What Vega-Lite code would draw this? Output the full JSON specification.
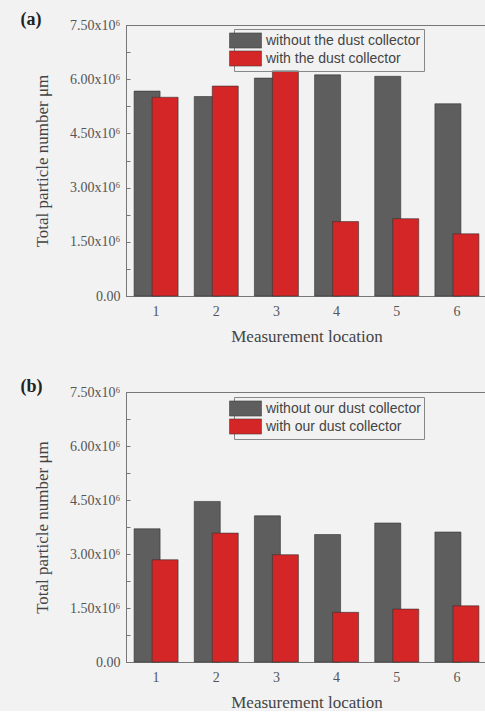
{
  "$schema": "https://vega.github.io/schema/vega-lite/v6.json",
  "background": "#f2f2f2",
  "padding": {"left": 20, "top": 10, "right": 0, "bottom": 0},
  "spacing": 32,
  "config": {
    "font": "Liberation Serif",
    "view": {"stroke": "#777777", "strokeWidth": 1},
    "axis": {
      "labelFont": "Liberation Serif",
      "titleFont": "Liberation Serif",
      "labelColor": "#555555",
      "titleColor": "#444444",
      "domainColor": "#777777",
      "tickColor": "#777777",
      "grid": false
    },
    "title": {"font": "Liberation Serif", "fontSize": 18, "fontWeight": "bold", "color": "#222222", "anchor": "start", "frame": "bounds"}
  },
  "resolve": {"scale": {"color": "independent"}, "legend": {"color": "independent"}},
  "vconcat": [
    {
      "width": 361,
      "height": 271,
      "title": {"text": "(a)", "dx": -13, "offset": -11},
      "data": {"values": [
        {"location": "1", "series": "without the dust collector", "value": 5670000},
        {"location": "2", "series": "without the dust collector", "value": 5520000},
        {"location": "3", "series": "without the dust collector", "value": 6030000},
        {"location": "4", "series": "without the dust collector", "value": 6120000},
        {"location": "5", "series": "without the dust collector", "value": 6080000},
        {"location": "6", "series": "without the dust collector", "value": 5320000},
        {"location": "1", "series": "with the dust collector", "value": 5500000},
        {"location": "2", "series": "with the dust collector", "value": 5810000},
        {"location": "3", "series": "with the dust collector", "value": 6230000},
        {"location": "4", "series": "with the dust collector", "value": 2060000},
        {"location": "5", "series": "with the dust collector", "value": 2140000},
        {"location": "6", "series": "with the dust collector", "value": 1720000}
      ]},
      "encoding": {
        "x": {"field": "location", "type": "ordinal", "scale": {"paddingInner": 0, "paddingOuter": 0},
              "axis": {"title": "Measurement location", "labelAngle": 0, "labelFontSize": 14, "titleFontSize": 17, "titleFontWeight": "normal", "ticks": false, "labelPadding": 8, "titlePadding": 10}},
        "y": {"field": "value", "type": "quantitative", "scale": {"domain": [0, 7500000], "nice": false},
              "axis": {"title": "Total particle number μm", "values": [0, 750000, 1500000, 2250000, 3000000, 3750000, 4500000, 5250000, 6000000, 6750000, 7500000],
                       "labelExpr": "datum.value % 1500000 !== 0 ? '' : (datum.value === 0 ? '0.00' : format(datum.value / 1000000, '.2f') + 'x10⁶')",
                       "labelFontSize": 14, "titleFontSize": 17, "titleFontWeight": "normal", "tickSize": -4, "labelPadding": 10, "titlePadding": 18}},
        "color": {"field": "series", "type": "nominal",
                  "scale": {"domain": ["without the dust collector", "with the dust collector"], "range": ["#5e5e5e", "#d42626"]},
                  "legend": {"title": null, "orient": "none", "legendX": 108, "legendY": 4, "direction": "vertical",
                             "strokeColor": "#888888", "padding": 3, "rowPadding": -6,
                             "symbolType": "M-2,-0.95H2V0.95H-2Z", "symbolSize": 256, "symbolStrokeColor": "#333333", "symbolStrokeWidth": 0.5, "symbolOpacity": 1,
                             "labelFont": "Liberation Sans", "labelFontSize": 14, "labelColor": "#444444", "labelOffset": 12}}
      },
      "layer": [
        {"transform": [{"filter": "datum.series === 'without the dust collector'"}],
         "mark": {"type": "bar", "width": 26, "xOffset": -9, "stroke": "#333333", "strokeWidth": 0.6}},
        {"transform": [{"filter": "datum.series === 'with the dust collector'"}],
         "mark": {"type": "bar", "width": 26, "xOffset": 9, "stroke": "#333333", "strokeWidth": 0.6}}
      ]
    },
    {
      "width": 361,
      "height": 270,
      "title": {"text": "(b)", "dx": -13, "offset": -11},
      "data": {"values": [
        {"location": "1", "series": "without our dust collector", "value": 3700000},
        {"location": "2", "series": "without our dust collector", "value": 4460000},
        {"location": "3", "series": "without our dust collector", "value": 4060000},
        {"location": "4", "series": "without our dust collector", "value": 3540000},
        {"location": "5", "series": "without our dust collector", "value": 3860000},
        {"location": "6", "series": "without our dust collector", "value": 3610000},
        {"location": "1", "series": "with our dust collector", "value": 2840000},
        {"location": "2", "series": "with our dust collector", "value": 3580000},
        {"location": "3", "series": "with our dust collector", "value": 2980000},
        {"location": "4", "series": "with our dust collector", "value": 1380000},
        {"location": "5", "series": "with our dust collector", "value": 1470000},
        {"location": "6", "series": "with our dust collector", "value": 1560000}
      ]},
      "encoding": {
        "x": {"field": "location", "type": "ordinal", "scale": {"paddingInner": 0, "paddingOuter": 0},
              "axis": {"title": "Measurement location", "labelAngle": 0, "labelFontSize": 14, "titleFontSize": 17, "titleFontWeight": "normal", "ticks": false, "labelPadding": 8, "titlePadding": 10}},
        "y": {"field": "value", "type": "quantitative", "scale": {"domain": [0, 7500000], "nice": false},
              "axis": {"title": "Total particle number μm", "values": [0, 750000, 1500000, 2250000, 3000000, 3750000, 4500000, 5250000, 6000000, 6750000, 7500000],
                       "labelExpr": "datum.value % 1500000 !== 0 ? '' : (datum.value === 0 ? '0.00' : format(datum.value / 1000000, '.2f') + 'x10⁶')",
                       "labelFontSize": 14, "titleFontSize": 17, "titleFontWeight": "normal", "tickSize": -4, "labelPadding": 10, "titlePadding": 18}},
        "color": {"field": "series", "type": "nominal",
                  "scale": {"domain": ["without our dust collector", "with our dust collector"], "range": ["#5e5e5e", "#d42626"]},
                  "legend": {"title": null, "orient": "none", "legendX": 108, "legendY": 5, "direction": "vertical",
                             "strokeColor": "#888888", "padding": 3, "rowPadding": -6,
                             "symbolType": "M-2,-0.95H2V0.95H-2Z", "symbolSize": 256, "symbolStrokeColor": "#333333", "symbolStrokeWidth": 0.5, "symbolOpacity": 1,
                             "labelFont": "Liberation Sans", "labelFontSize": 14, "labelColor": "#444444", "labelOffset": 12}}
      },
      "layer": [
        {"transform": [{"filter": "datum.series === 'without our dust collector'"}],
         "mark": {"type": "bar", "width": 26, "xOffset": -9, "stroke": "#333333", "strokeWidth": 0.6}},
        {"transform": [{"filter": "datum.series === 'with our dust collector'"}],
         "mark": {"type": "bar", "width": 26, "xOffset": 9, "stroke": "#333333", "strokeWidth": 0.6}}
      ]
    }
  ]
}
